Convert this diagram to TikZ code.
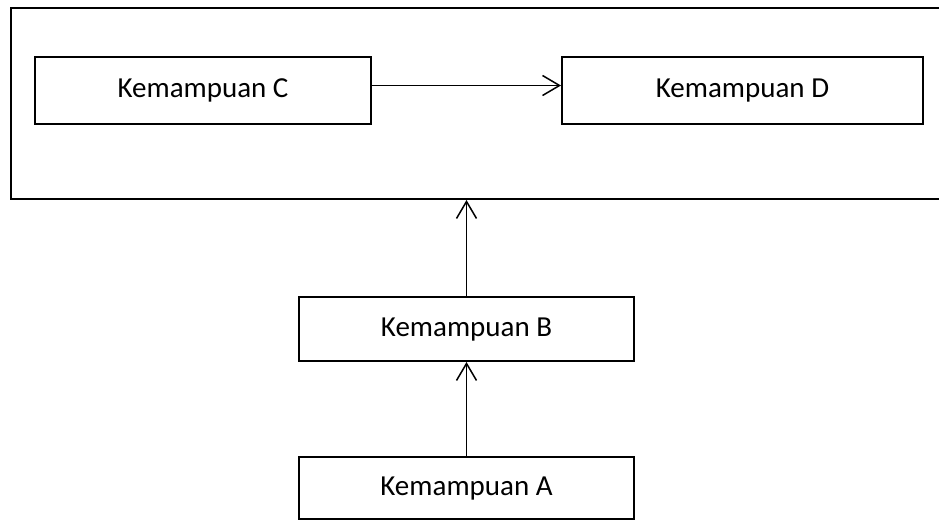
\documentclass[tikz,border=0pt]{standalone}
\usepackage{fontspec}
\setmainfont{Carlito}
\usetikzlibrary{arrows.meta}

\begin{document}
\begin{tikzpicture}[x=1pt,y=-1pt,
  box/.style={draw, line width=2pt, inner sep=0pt, text height=19pt, text depth=5pt, font=\fontsize{29}{34}\selectfont},
  link/.style={line width=1.5pt, -{Straight Barb[length=17pt,width=20pt,line width=1.5pt]}}]
\useasboundingbox (0,0) rectangle (939,520);
\clip (0,0) rectangle (939,520);
\node[name=frame, draw, line width=2pt, minimum width=934pt, minimum height=191pt] at (478,103.5) {};
\node[name=C, box, minimum width=336pt, minimum height=67pt] at (203,90.5) {Kemampuan C};
\node[name=D, box, minimum width=361pt, minimum height=67pt] at (742.5,90.5) {Kemampuan D};
\node[name=B, box, minimum width=335pt, minimum height=64pt] at (466.5,329) {Kemampuan B};
\node[name=A, box, minimum width=335pt, minimum height=62pt] at (466.5,488) {Kemampuan A};
\draw[link] ([yshift=5pt]C.east) -- ([yshift=5pt]D.west);
\draw[link] (B.north) -- (B.north |- frame.south);
\draw[link] (A.north) -- (B.south);
\end{tikzpicture}
\end{document}
